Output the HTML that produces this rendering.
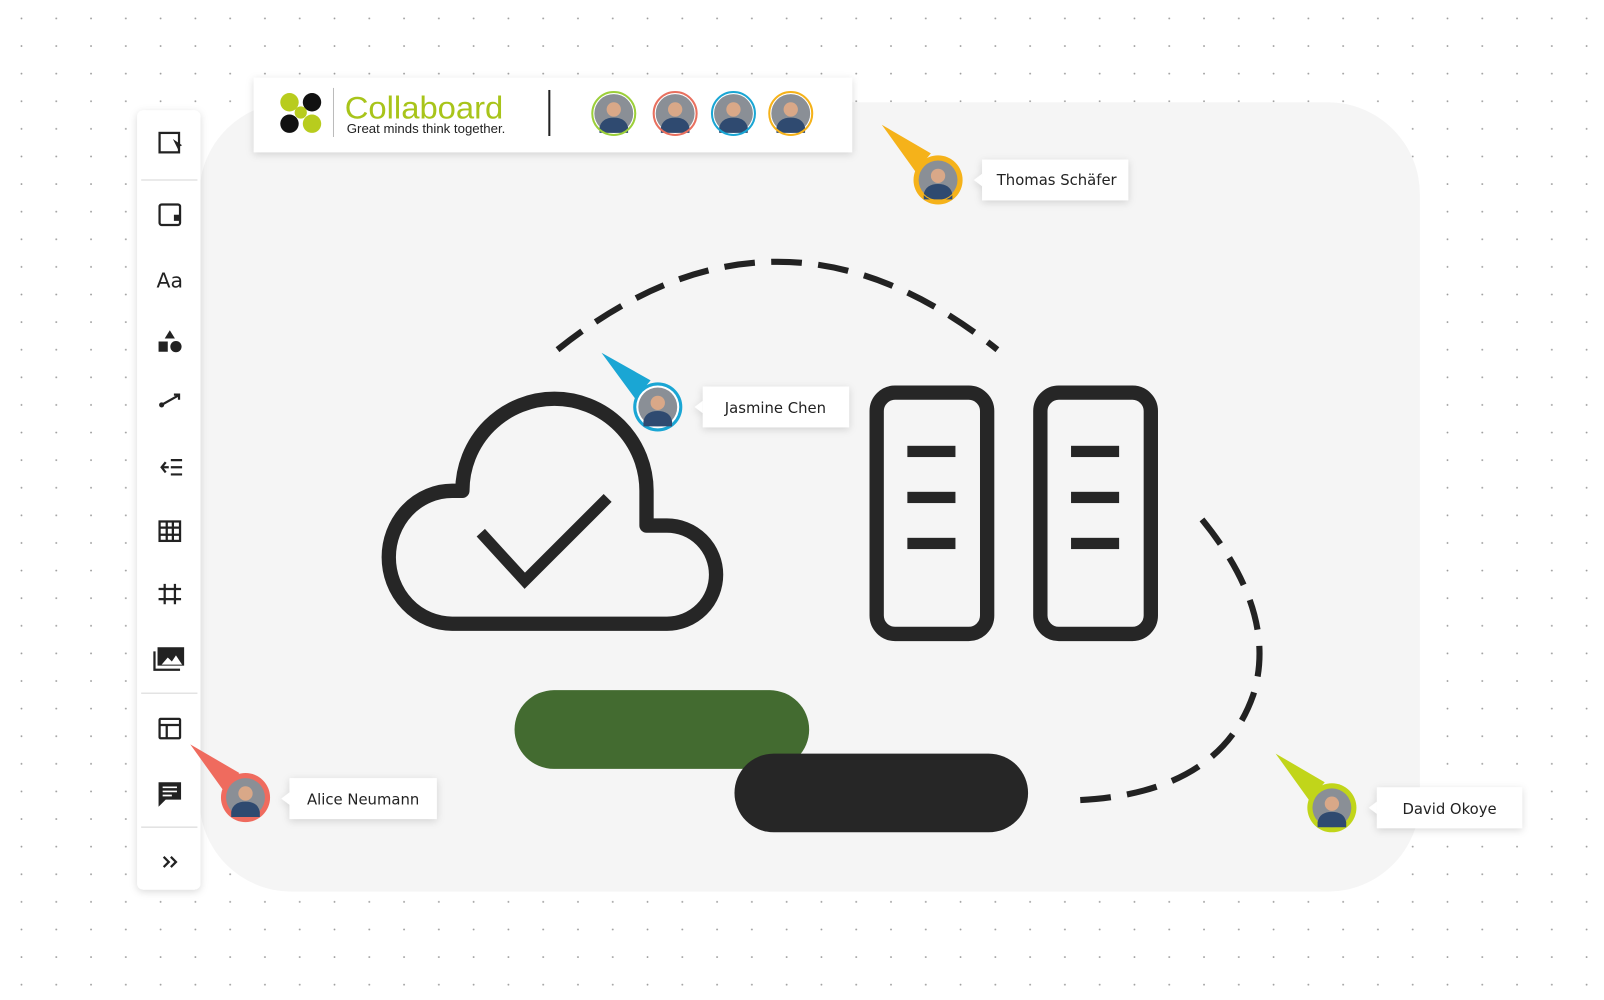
<!DOCTYPE html>
<html><head><meta charset="utf-8"><style>
html,body{margin:0;padding:0;width:1604px;height:1000px;overflow:hidden;background:#fff}
svg{display:block}
text{font-family:"DejaVu Sans","Liberation Sans",sans-serif}
</style></head><body>
<svg width="1604" height="1000" viewBox="0 0 1568 978" preserveAspectRatio="none" xmlns="http://www.w3.org/2000/svg">
<defs>
<pattern id="dots" x="20" y="17" width="34" height="27" patternUnits="userSpaceOnUse"><circle cx="1" cy="1" r="0.9" fill="#9a9a9a"/></pattern>
<filter id="sh" x="-20%" y="-40%" width="140%" height="180%"><feDropShadow dx="0" dy="2" stdDeviation="4" flood-color="#000" flood-opacity="0.15"/></filter>
<g id="face"><circle r="19" fill="#8a8f96"/><circle cx="0" cy="-4" r="7" fill="#d9a888"/><path d="M-14 14 Q-12 4 0 4 Q12 4 14 14 L14 19 L-14 19Z" fill="#2f4a70"/></g>
</defs>
<rect width="1568" height="978" fill="url(#dots)"/>
<rect x="195" y="100" width="1193" height="772" rx="90" fill="#f5f5f5"/>
<!-- toolbar -->
<rect x="134" y="108" width="62" height="762" rx="6" fill="#fff" filter="url(#sh)"/>
<g stroke="#e3e3e3" stroke-width="1.5"><line x1="138" y1="176" x2="193" y2="176"/><line x1="138" y1="678" x2="193" y2="678"/><line x1="138" y1="809" x2="193" y2="809"/></g>
<g stroke="#222" stroke-width="2.2" fill="none">
<rect x="156" y="130" width="19" height="19"/>
<rect x="156" y="200" width="20" height="20" rx="2"/>
<path d="M158 396 L174 387 M170 386 L175 386 L175 391"/>
<path d="M162 452 L158 457 L162 462 M158 457 H165 M167 450 H178 M167 457 H178 M167 464 H178"/>
<rect x="156" y="510" width="20" height="19"/><path d="M156 516 H176 M156 523 H176 M163 510 V529 M169 510 V529"/>
<path d="M161 571 V591 M171 571 V591 M155 576 H177 M155 586 H177"/>
<rect x="156" y="703" width="20" height="19" rx="1"/><path d="M156 709 H176 M163 709 V722"/>
<path d="M160 838 L165 843 L160 848 M167 838 L172 843 L167 848"/>
</g>
<path d="M169 136 L178 142 L174 144 L176 150 Z" fill="#222"/>
<path d="M170 210 L176 210 L176 216 L170 216Z" fill="#222"/>
<circle cx="158" cy="396" r="2.5" fill="#222"/>
<text x="166" y="281" font-size="20" text-anchor="middle" fill="#222">Aa</text>
<path d="M166 323 L171 331 L161 331Z M155 334 H164 V344 H155Z" fill="#222"/><circle cx="172" cy="339" r="5.5" fill="#222"/>
<rect x="154" y="633" width="26" height="18" fill="#222"/><path d="M158 650 L164 643 L168 647 L172 641 L178 650Z" fill="#fff"/><path d="M151 637 V655 H176" stroke="#222" stroke-width="2.2" fill="none"/>
<path d="M155 765 H177 V782 H162 L155 789Z" fill="#222"/><path d="M159 770 H173 M159 774 H173 M159 778 H168" stroke="#fff" stroke-width="1.6"/>
<!-- header card -->
<rect x="248" y="76" width="585" height="73" fill="#fff" filter="url(#sh)"/>
<g><circle cx="283" cy="100" r="9" fill="#b8cc1e"/><circle cx="305" cy="100" r="9" fill="#111"/><circle cx="283" cy="121" r="9" fill="#111"/><circle cx="305" cy="121" r="9" fill="#b8cc1e"/><circle cx="294" cy="110" r="6" fill="#b8cc1e"/></g>
<line x1="326" y1="86" x2="326" y2="134" stroke="#bbb" stroke-width="1"/>
<text x="337" y="116" font-size="31" fill="#a8c41a" textLength="155" lengthAdjust="spacingAndGlyphs" style="font-family:'Liberation Sans',sans-serif">Collaboard</text>
<text x="339" y="130" font-size="12.5" fill="#222" textLength="155" lengthAdjust="spacingAndGlyphs" style="font-family:'Liberation Sans',sans-serif">Great minds think together.</text>
<line x1="537" y1="88" x2="537" y2="133" stroke="#222" stroke-width="2"/>
<g transform="translate(600,111)"><use href="#face"/><circle r="21" fill="none" stroke="#9ccf3a" stroke-width="2"/></g>
<g transform="translate(660,111)"><use href="#face"/><circle r="21" fill="none" stroke="#e8705f" stroke-width="2"/></g>
<g transform="translate(717,111)"><use href="#face"/><circle r="21" fill="none" stroke="#1aa6d4" stroke-width="2"/></g>
<g transform="translate(773,111)"><use href="#face"/><circle r="21" fill="none" stroke="#f5b21a" stroke-width="2"/></g>
<!-- dashed arcs -->
<path d="M545 342 Q760 170 975 342" fill="none" stroke="#222" stroke-width="6" stroke-dasharray="30 16"/>
<path d="M1175 508 Q1250 600 1225 680 Q1190 780 1042 783" fill="none" stroke="#222" stroke-width="6" stroke-dasharray="30 16"/>
<!-- cloud -->
<path d="M442 610 H652 A48 48 0 0 0 652 514 H632 V480 A90 90 0 0 0 452 480 H442 A62 65 0 0 0 442 610 Z" fill="none" stroke="#262626" stroke-width="14" stroke-linejoin="round"/>
<polyline points="470,521 513,568 594,487" fill="none" stroke="#262626" stroke-width="11"/>
<!-- servers -->
<g fill="none" stroke="#262626" stroke-width="14"><rect x="857" y="384" width="108" height="236" rx="18"/><rect x="1017" y="384" width="108" height="236" rx="18"/></g>
<g fill="#262626"><rect x="887" y="436" width="47" height="11"/><rect x="887" y="481" width="47" height="11"/><rect x="887" y="526" width="47" height="11"/><rect x="1047" y="436" width="47" height="11"/><rect x="1047" y="481" width="47" height="11"/><rect x="1047" y="526" width="47" height="11"/></g>
<!-- pills -->
<rect x="503" y="675" width="288" height="77" rx="38.5" fill="#436b30"/>
<rect x="718" y="737" width="287" height="77" rx="38.5" fill="#262626"/>
<!-- cursors -->
<polygon points="862,122 910,150 895,168" fill="#f5b21a"/>
<g transform="translate(917,176)"><circle r="24" fill="#f5b21a"/><use href="#face"/><circle r="20" fill="none" stroke="#f5b21a" stroke-width="1"/></g>
<g filter="url(#sh)"><rect x="960" y="156" width="143" height="40" fill="#fff"/><polygon points="960,170 952,176 960,182" fill="#fff"/></g>
<text x="1033" y="181" font-size="14.5" text-anchor="middle" fill="#222">Thomas Schäfer</text>

<polygon points="588,345 636,372 621,390" fill="#1aa6d4"/>
<g transform="translate(643,398)"><circle r="24" fill="#1aa6d4"/><circle r="21" fill="#fff"/><use href="#face"/></g>
<g filter="url(#sh)"><rect x="687" y="378" width="143" height="40" fill="#fff"/><polygon points="687,392 679,398 687,404" fill="#fff"/></g>
<text x="758" y="404" font-size="14.5" text-anchor="middle" fill="#222">Jasmine Chen</text>

<polygon points="186,728 234,756 219,774" fill="#ef6b5e"/>
<g transform="translate(240,780)"><circle r="24" fill="#ef6b5e"/><use href="#face"/></g>
<g filter="url(#sh)"><rect x="283" y="761" width="144" height="40" fill="#fff"/><polygon points="283,775 275,781 283,787" fill="#fff"/></g>
<text x="355" y="787" font-size="14.5" text-anchor="middle" fill="#222">Alice Neumann</text>

<polygon points="1247,737 1295,765 1280,783" fill="#c1d51a"/>
<g transform="translate(1302,790)"><circle r="24" fill="#c1d51a"/><use href="#face"/></g>
<g filter="url(#sh)"><rect x="1346" y="770" width="142" height="40" fill="#fff"/><polygon points="1346,784 1338,790 1346,796" fill="#fff"/></g>
<text x="1417" y="796" font-size="14.5" text-anchor="middle" fill="#222">David Okoye</text>
</svg>
</body></html>
